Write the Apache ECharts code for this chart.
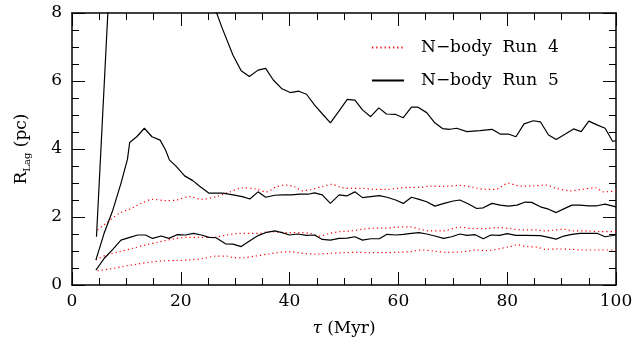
<!DOCTYPE html>
<html>
<head>
<meta charset="utf-8">
<script src="https://cdn.jsdelivr.net/npm/echarts@6/dist/echarts.min.js"></script>
<style>
  html, body { margin: 0; padding: 0; background: #fff; }
  #chart { width: 637px; height: 343px; }
</style>
</head>
<body>
<div id="chart"></div>
<script>
// [tau (Myr), R_Lag (pc)]
const run5Upper = [[4.5,1.42],[7,9.3],[10,11],[14,12],[18,11.5],[22,10],[25,8.7],[27.5,7.6],[29.6,6.76],[31.1,6.3],[32.6,6.13],[34.2,6.32],[35.6,6.37],[37.0,6.03],[38.6,5.77],[40.1,5.66],[41.7,5.7],[43.1,5.61],[44.6,5.29],[46.2,5.0],[47.5,4.77],[49.1,5.12],[50.6,5.46],[52.0,5.44],[53.4,5.15],[54.9,4.95],[56.4,5.21],[57.8,5.03],[59.4,5.02],[60.9,4.92],[62.4,5.23],[63.6,5.23],[65.2,5.07],[66.7,4.77],[68.1,4.6],[69.5,4.58],[70.7,4.61],[72.6,4.51],[75.0,4.54],[77.2,4.58],[78.7,4.44],[80.2,4.44],[81.6,4.36],[83.1,4.74],[84.8,4.83],[86.1,4.80],[87.6,4.41],[89.0,4.28],[90.7,4.44],[92.2,4.59],[93.6,4.51],[95.0,4.82],[96.5,4.71],[98.0,4.61],[99.4,4.22],[100,4.25]]
const run5Middle = [[4.4,0.74],[5.9,1.52],[7.5,2.2],[9.0,2.99],[10.2,3.7],[10.6,4.19],[11.9,4.36],[13.3,4.61],[14.7,4.36],[16.2,4.26],[17.2,3.97],[17.9,3.68],[19.2,3.48],[20.7,3.21],[22.2,3.07],[23.4,2.91],[25.2,2.70],[27.7,2.70],[29.6,2.65],[31.3,2.60],[32.7,2.53],[34.2,2.74],[35.6,2.58],[37.3,2.64],[38.8,2.65],[40.3,2.65],[41.9,2.67],[43.4,2.67],[44.6,2.71],[46.0,2.65],[47.5,2.40],[49.1,2.65],[50.5,2.62],[52.0,2.74],[53.4,2.57],[54.9,2.60],[56.5,2.63],[57.9,2.58],[59.5,2.50],[60.9,2.40],[62.4,2.58],[63.8,2.52],[65.2,2.45],[66.7,2.32],[68.4,2.40],[70.1,2.47],[71.3,2.50],[72.9,2.38],[74.4,2.25],[75.6,2.27],[77.2,2.40],[78.7,2.35],[80.2,2.32],[81.8,2.35],[83.3,2.44],[84.5,2.43],[86.1,2.30],[87.6,2.23],[89.0,2.13],[90.4,2.24],[91.9,2.35],[93.4,2.35],[95.0,2.33],[96.5,2.33],[98.0,2.38],[100,2.30]]
const run5Lower = [[4.4,0.44],[5.9,0.78],[7.5,1.05],[9.0,1.32],[10.6,1.40],[12.1,1.47],[13.5,1.47],[14.8,1.37],[16.4,1.44],[17.8,1.37],[19.3,1.48],[20.9,1.47],[22.3,1.52],[23.8,1.47],[25.2,1.40],[26.5,1.39],[28.2,1.21],[29.6,1.20],[31.1,1.13],[32.7,1.30],[34.3,1.46],[35.8,1.55],[37.3,1.59],[38.6,1.54],[40.0,1.47],[41.5,1.50],[43.1,1.46],[44.6,1.47],[46.0,1.34],[47.5,1.32],[49.1,1.37],[50.6,1.38],[52.0,1.42],[53.4,1.32],[54.9,1.36],[56.5,1.36],[57.9,1.49],[59.5,1.47],[60.9,1.49],[62.4,1.52],[63.8,1.54],[65.2,1.50],[66.7,1.44],[68.3,1.37],[69.8,1.42],[71.3,1.50],[72.6,1.46],[74.1,1.48],[75.6,1.36],[77.0,1.47],[78.6,1.46],[80.0,1.51],[81.6,1.46],[83.3,1.46],[86.1,1.45],[87.6,1.40],[89.0,1.35],[90.4,1.44],[91.9,1.49],[93.4,1.52],[96.5,1.52],[98.0,1.42],[100,1.47]]
const run4Upper = [[4.7,1.62],[6.6,1.86],[8.7,2.11],[10.9,2.25],[12.7,2.40],[14.8,2.52],[17.3,2.48],[19.2,2.50],[21.6,2.60],[23.8,2.52],[26.5,2.60],[29.0,2.74],[31.4,2.86],[33.9,2.82],[35.7,2.74],[37.6,2.89],[39.4,2.94],[40.9,2.89],[42.5,2.77],[44.0,2.81],[45.9,2.89],[47.7,2.96],[49.5,2.87],[51.4,2.84],[53.5,2.84],[55.4,2.81],[57.8,2.81],[59.7,2.84],[61.8,2.87],[64.0,2.87],[65.8,2.91],[68.2,2.90],[71.3,2.93],[73.8,2.87],[75.9,2.81],[77.8,2.81],[80.2,2.99],[82.4,2.91],[84.5,2.91],[87.0,2.94],[89.1,2.84],[91.6,2.77],[93.7,2.81],[96.2,2.86],[97.7,2.74],[100,2.76]]
const run4Middle = [[4.4,0.74],[6.3,0.88],[8.7,0.98],[11.2,1.08],[13.6,1.18],[16.1,1.27],[18.5,1.35],[21.0,1.40],[23.4,1.40],[25.9,1.40],[28.4,1.47],[30.8,1.52],[33.0,1.52],[34.5,1.52],[36.3,1.57],[38.2,1.55],[40.0,1.54],[41.9,1.54],[43.7,1.52],[45.5,1.44],[47.4,1.52],[49.2,1.57],[51.1,1.59],[53.5,1.64],[55.4,1.67],[57.2,1.67],[59.7,1.70],[62.1,1.71],[64.0,1.64],[65.8,1.59],[68.0,1.59],[71.3,1.70],[73.8,1.66],[76.2,1.66],[78.1,1.69],[80.5,1.66],[83.0,1.62],[85.5,1.62],[86.7,1.59],[88.5,1.61],[90.4,1.64],[92.2,1.59],[94.7,1.59],[97.1,1.57],[100,1.57]]
const run4Lower = [[4.7,0.42],[6.9,0.47],[9.3,0.54],[11.8,0.61],[14.2,0.67],[16.7,0.71],[19.2,0.72],[21.6,0.74],[24.1,0.78],[26.5,0.85],[28.4,0.85],[29.6,0.81],[31.4,0.80],[33.6,0.85],[36.0,0.91],[37.6,0.95],[40.0,0.98],[42.5,0.93],[44.9,0.91],[47.4,0.93],[49.8,0.95],[52.3,0.96],[54.8,0.95],[57.2,0.95],[59.7,0.96],[62.1,0.98],[64.3,1.03],[66.4,1.00],[68.9,0.96],[71.9,0.98],[74.4,1.03],[76.2,1.01],[78.7,1.07],[80.5,1.13],[81.9,1.18],[83.6,1.13],[85.5,1.11],[87.0,1.05],[89.1,1.06],[91.6,1.05],[94.0,1.03],[96.5,1.03],[100,1.03]]

const run4Name = 'N\u2212body  Run  4'
const run5Name = 'N\u2212body  Run  5'

const font = 'DejaVu Serif'
const ink = '#000'

const frameAxis = (pos, showLabel) => ({
  position: pos,
  type: 'value',
  axisLine: { show: true, onZero: false, lineStyle: { color: ink, width: 1.5 } },
  axisTick: { show: true, inside: true, length: 13, lineStyle: { color: ink, width: 1 } },
  minorTick: { show: true, splitNumber: 4, length: 7, lineStyle: { color: ink, width: 1 } },
  splitLine: { show: false },
  axisLabel: { show: showLabel, color: ink, fontFamily: font, fontSize: 17 }
})

const xBottom = Object.assign(frameAxis('bottom', true), {
  min: 0, max: 100, interval: 20,
  name: '{t|\u03c4} (Myr)',
  nameLocation: 'middle',
  nameGap: 35,
  nameTextStyle: {
    color: ink, fontFamily: font, fontSize: 17,
    rich: { t: { fontFamily: font, fontStyle: 'italic', fontSize: 17, color: ink } }
  }
})
xBottom.axisLabel.margin = 8
const xTop = Object.assign(frameAxis('top', false), { min: 0, max: 100, interval: 20 })

const yLeft = Object.assign(frameAxis('left', true), {
  min: 0, max: 8, interval: 2,
  name: '{r|R}{s|Lag}{r| (pc)}',
  nameLocation: 'middle',
  nameGap: 38,
  nameTextStyle: {
    color: ink, fontFamily: font, fontSize: 17,
    rich: {
      r: { fontFamily: font, fontSize: 17, color: ink, lineHeight: 24, verticalAlign: 'middle' },
      s: { fontFamily: font, fontSize: 10, color: ink, lineHeight: 24, verticalAlign: 'bottom', padding: [0, 0, 2, 0] }
    }
  }
})
yLeft.axisLabel.margin = 10
const yRight = Object.assign(frameAxis('right', false), { min: 0, max: 8, interval: 2 })

const blackLine = (name, data) => ({
  name: name,
  type: 'line',
  data: data,
  symbol: 'none',
  clip: true,
  silent: true,
  lineStyle: { color: ink, width: 1.2 },
  itemStyle: { color: ink }
})
const redLine = (name, data) => ({
  name: name,
  type: 'line',
  data: data,
  symbol: 'none',
  clip: true,
  silent: true,
  smooth: 0.3,
  lineStyle: { color: '#ff0000', width: 1.2, type: [1.2, 3] },
  itemStyle: { color: '#ff0000' }
})

const chart = echarts.init(document.getElementById('chart'), null, { renderer: 'canvas' })
chart.setOption({
  animation: false,
  backgroundColor: '#fff',
  grid: { left: 72, right: 21, top: 13, bottom: 58, containLabel: false, outerBoundsMode: 'none' },
  legend: {
    orient: 'vertical',
    left: 366,
    top: 34,
    itemWidth: 32,
    itemHeight: 14,
    itemGap: 16,
    data: [run4Name, run5Name],
    itemStyle: { opacity: 0 },
    textStyle: { color: ink, fontFamily: font, fontSize: 17, padding: [0, 0, 0, 12] }
  },
  xAxis: [xBottom, xTop],
  yAxis: [yLeft, yRight],
  series: [
    redLine(run4Name, run4Upper),
    redLine(run4Name, run4Middle),
    redLine(run4Name, run4Lower),
    blackLine(run5Name, run5Upper),
    blackLine(run5Name, run5Middle),
    blackLine(run5Name, run5Lower)
  ]
})
</script>
</body>
</html>
